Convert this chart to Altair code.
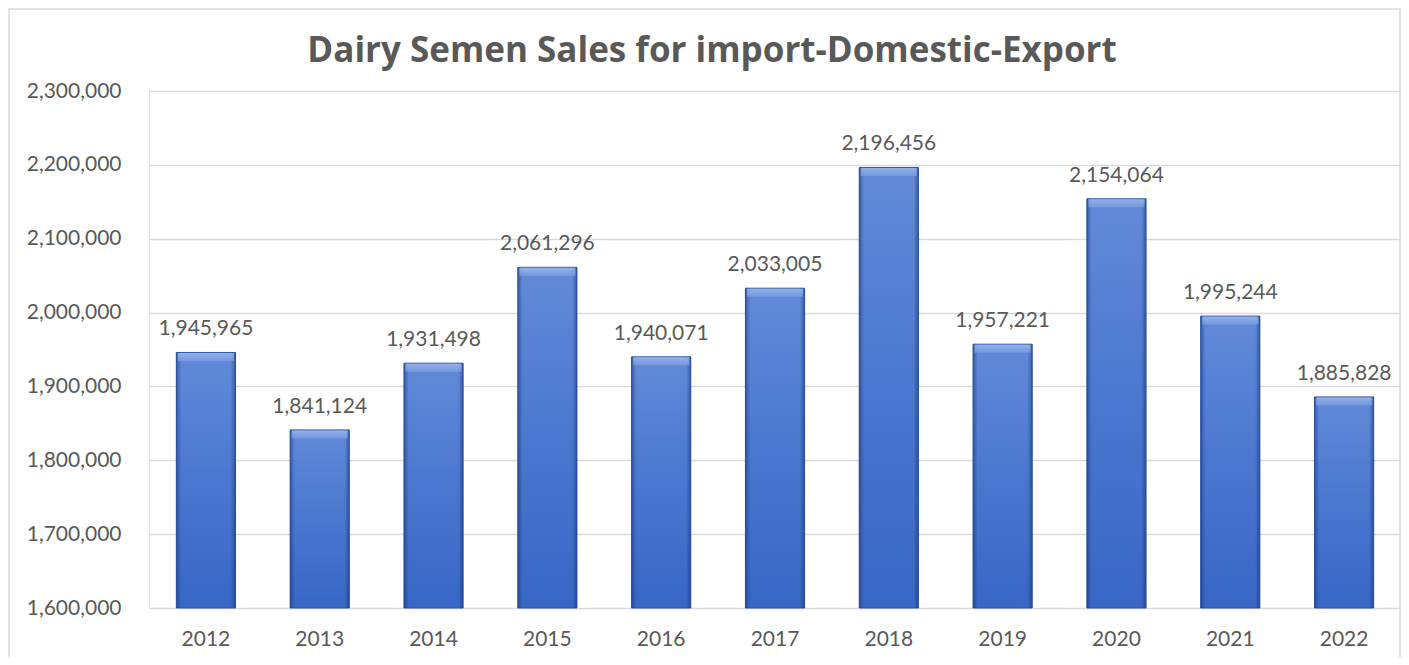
import altair as alt
import pandas as pd

years = ["2012", "2013", "2014", "2015", "2016", "2017", "2018", "2019", "2020", "2021", "2022"]
sales = [1945965, 1841124, 1931498, 2061296, 1940071, 2033005, 2196456, 1957221, 2154064, 1995244, 1885828]
y_ticks = [1600000, 1700000, 1800000, 1900000, 2000000, 2100000, 2200000, 2300000]
title_text = "Dairy Semen Sales for import-Domestic-Export"

df = pd.DataFrame({"year": years, "sales": sales})

W, H = 1252, 517
FONT = "Lato"
TXT = "#595959"

x_enc = alt.X("year:N", sort=years, title=None,
              scale=alt.Scale(paddingInner=0.48, paddingOuter=0.24),
              axis=alt.Axis(labelAngle=0, labelFont=FONT, labelFontSize=21, labelColor=TXT,
                            labelPadding=20, ticks=False, domain=False, grid=False))
y_enc = alt.Y("sales:Q", title=None,
              scale=alt.Scale(domain=[1600000, 2300000], nice=False, zero=False, clamp=True),
              axis=alt.Axis(values=y_ticks, format=",", labelExpr="format(datum.value, ',')",
                            labelFont=FONT, labelFontSize=21,
                            labelColor=TXT, labelPadding=28, ticks=False, domain=False,
                            gridColor="#d9d9d9", gridWidth=1.5))

base = alt.Chart(df).encode(x=x_enc)

bars = base.mark_bar(
    color=alt.Gradient(gradient="linear", x1=0, y1=0, x2=0, y2=1,
                       stops=[alt.GradientStop(color="#628AD8", offset=0),
                              alt.GradientStop(color="#4A77CF", offset=0.5),
                              alt.GradientStop(color="#3866C5", offset=1)]),
    stroke="#2D58AA", strokeWidth=1
).encode(y=y_enc, y2=alt.datum(1600000))

edges = base.mark_bar(
    color=alt.Gradient(gradient="linear", x1=0, y1=0, x2=1, y2=0,
                       stops=[alt.GradientStop(color="rgba(20,45,110,0.5)", offset=0),
                              alt.GradientStop(color="rgba(20,45,110,0)", offset=0.08),
                              alt.GradientStop(color="rgba(20,45,110,0)", offset=0.92),
                              alt.GradientStop(color="rgba(20,45,110,0.5)", offset=1)])
).encode(y=y_enc, y2=alt.datum(1600000))

bevel = base.mark_tick(
    size=56, thickness=8, yOffset=4.5,
    color=alt.Gradient(gradient="linear", x1=0, y1=0, x2=0, y2=1,
                       stops=[alt.GradientStop(color="#A9C1EF", offset=0),
                              alt.GradientStop(color="#7C9FE2", offset=1)])
).encode(y=y_enc)

labels = base.mark_text(
    font=FONT, fontSize=21, color=TXT, baseline="alphabetic", dy=-17
).encode(y=y_enc, text=alt.Text("sales:Q", format=","))

one = pd.DataFrame({"t": [title_text]})

frame = alt.Chart(one).mark_rect(
    filled=False, stroke="#d9d9d9", strokeWidth=1.5
).encode(x=alt.value(-140), x2=alt.value(W - 1), y=alt.value(-82), y2=alt.value(H + 80))

title = alt.Chart(one).mark_text(
    font="Open Sans", fontSize=35, fontWeight="bold", color=TXT, baseline="alphabetic", align="center"
).encode(text="t:N", x=alt.value(563), y=alt.value(-29))

chart = alt.layer(frame, bars, edges, bevel, labels, title).properties(
    width=W, height=H,
    autosize=alt.AutoSizeParams(type="none"),
    padding={"left": 141, "top": 83, "right": 0, "bottom": 49},
).configure_view(stroke=None).configure(background="white")

chart.save("out.html", embed_options={"renderer": "svg", "actions": False})
